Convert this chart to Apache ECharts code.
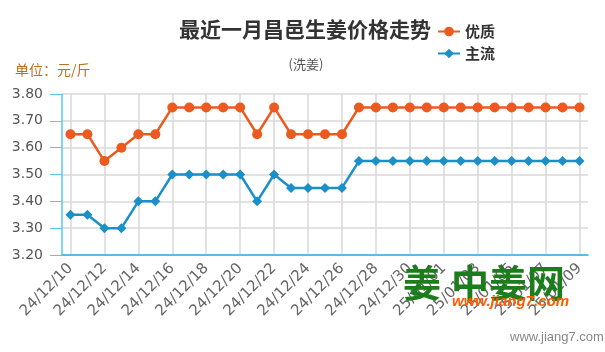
<!DOCTYPE html>
<html><head><meta charset="utf-8">
<script src="https://cdn.jsdelivr.net/npm/echarts@6/dist/echarts.min.js"></script>
<style>html,body{margin:0;padding:0;background:#fff}#c{width:605px;height:352px}</style>
</head><body><div id="c"></div>
<script>
var dates = ["24/12/10","24/12/11","24/12/12","24/12/13","24/12/14","24/12/15","24/12/16","24/12/17","24/12/18","24/12/19","24/12/20","24/12/21","24/12/22","24/12/23","24/12/24","24/12/25","24/12/26","24/12/27","24/12/28","24/12/29","24/12/30","24/12/31","25/01/01","25/01/02","25/01/03","25/01/04","25/01/05","25/01/06","25/01/07","25/01/08","25/01/09"];
var youzhi = [3.65,3.65,3.55,3.60,3.65,3.65,3.75,3.75,3.75,3.75,3.75,3.65,3.75,3.65,3.65,3.65,3.65,3.75,3.75,3.75,3.75,3.75,3.75,3.75,3.75,3.75,3.75,3.75,3.75,3.75,3.75];
var zhuliu = [3.35,3.35,3.30,3.30,3.40,3.40,3.50,3.50,3.50,3.50,3.50,3.40,3.50,3.45,3.45,3.45,3.45,3.55,3.55,3.55,3.55,3.55,3.55,3.55,3.55,3.55,3.55,3.55,3.55,3.55,3.55];
var seriesNames = ["优质","主流"];
var font = "'Microsoft YaHei','Noto Sans CJK SC',sans-serif";
var latin = "'DejaVu Sans', Verdana, sans-serif";
var chart = echarts.init(document.getElementById('c'));
chart.setOption({
  animation:false,
  textStyle:{fontFamily:font},
  title:[
    {text:"最近一月昌邑生姜价格走势", left:300, textAlign:'center', top:14, textStyle:{fontSize:21,fontWeight:'bold',color:'#333',fontFamily:font}},
    {text:"(洗姜)", left:301, textAlign:'center', top:53, textStyle:{fontSize:13,fontWeight:'normal',color:'#555',fontFamily:font}},
    {text:"单位：元/斤", left:10, top:58, textStyle:{fontSize:14,fontWeight:'normal',color:'#c06d1e',fontFamily:font}}
  ],
  legend:{
    orient:'vertical', left:432, top:19, itemGap:7, itemWidth:22, itemHeight:12,
    textStyle:{fontSize:15,fontWeight:'bold',color:'#333',fontFamily:font},
    data:seriesNames
  },
  grid:{left:62, right:17, top:94, bottom:97},
  xAxis:{
    type:'category', boundaryGap:true, data:dates,
    axisLine:{lineStyle:{color:'#2db3e0',width:1.5}},
    axisTick:{alignWithLabel:true, interval:1, length:9, lineStyle:{color:'#2db3e0'}},
    axisLabel:{interval:1, rotate:45, color:'#666', fontSize:15, margin:11, fontFamily:latin},
    splitLine:{show:true, alignWithLabel:true, interval:1, lineStyle:{color:'#d9d9d9',width:1.5}}
  },
  yAxis:{
    type:'value', min:3.2, max:3.8, interval:0.1,
    axisLine:{show:true, lineStyle:{color:'#5cc6ea',width:1.5}},
    axisTick:{show:true, length:12, lineStyle:{color:'#5cc6ea'}},
    axisLabel:{color:'#555', fontSize:14, margin:19, formatter:function(v){return v.toFixed(2);}, fontFamily:latin},
    splitLine:{lineStyle:{color:'#d9d9d9',width:1.5}}
  },
  series:[
    {name:seriesNames[0], type:'line', data:youzhi, symbol:'circle', symbolSize:10,
     itemStyle:{color:'#eb5a1e'}, lineStyle:{width:2.5,color:'#eb5a1e'}},
    {name:seriesNames[1], type:'line', data:zhuliu, symbol:'diamond', symbolSize:10,
     itemStyle:{color:'#1b8fc8'}, lineStyle:{width:2.5,color:'#1b8fc8'}}
  ],
  graphic:[
    {type:'text', left:403, top:264, z:100, style:{text:'姜', fontSize:38, fontWeight:'bold', fill:'#1c7d1c', fontFamily:font}},
    {type:'text', left:451, top:264, z:100, style:{text:'中姜网', fontSize:38, fontWeight:'bold', fill:'#1c7d1c', fontFamily:font}},
    {type:'text', left:452, top:294, z:100, style:{text:'www.jiang7.com', fontSize:15, fontWeight:'bold', fontStyle:'italic', fill:'#ff5a00', fontFamily:"'Liberation Sans', Arial, sans-serif"}},
    {type:'text', left:510, top:331, z:100, style:{text:'www.jiang7.com', fontSize:13, fill:'#888', fontFamily:"'Liberation Sans', Arial, sans-serif"}}
  ]
});
</script></body></html>
